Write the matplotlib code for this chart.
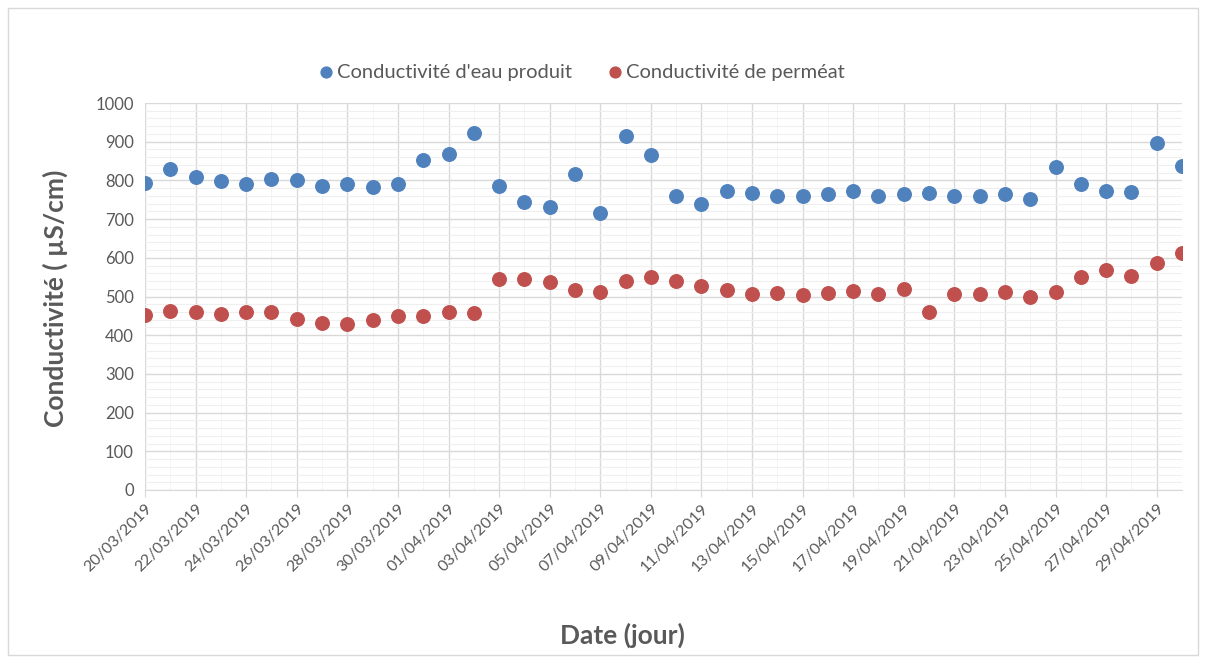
import matplotlib; matplotlib.use("Agg")
import matplotlib.pyplot as plt
import matplotlib.dates as mdates
from matplotlib.ticker import MultipleLocator
from matplotlib.patches import Rectangle
import pandas as pd

dates = pd.date_range("2019-03-20", "2019-04-30", freq="D")
eau_produit = [793, 829, 809, 798, 791, 803, 801, 786, 791, 783, 791, 853, 868, 922,
               786, 744, 731, 816, 716, 915, 866, 760, 739, 772, 767, 760, 760, 764,
               772, 760, 764, 767, 760, 760, 765, 751, 835, 791, 772, 769, 897, 837]
permeat = [452, 463, 460, 455, 459, 460, 442, 431, 429, 439, 450, 450, 460, 457,
           545, 545, 537, 517, 511, 540, 551, 540, 527, 517, 506, 509, 503, 510,
           514, 506, 519, 460, 506, 506, 512, 499, 512, 550, 568, 552, 586, 612]

plt.rcParams["font.family"] = ["Lato", "DejaVu Sans"]
fig = plt.figure(figsize=(12.13, 6.63), dpi=100)
fig.patches.append(Rectangle((8/1213, 8/663), 1190/1213, 647/663, transform=fig.transFigure,
                             fill=False, edgecolor="#d9d9d9", lw=1))
ax = fig.add_axes([145/1213, 1-490/663, (1182-145)/1213, (490-103)/663])

ax.scatter(dates, eau_produit, s=95, color="#4F81BD", zorder=3, label="Conductivité d'eau produit")
ax.scatter(dates, permeat, s=95, color="#C0504D", zorder=3, label="Conductivité de perméat")

ax.set_xlim(dates[0], dates[-1])
ax.set_ylim(0, 1000)
ax.set_xticks(dates[:-1:2])
ax.xaxis.set_major_formatter(mdates.DateFormatter("%d/%m/%Y"))
ax.set_xticks(dates, minor=True)
ax.yaxis.set_major_locator(MultipleLocator(100))
ax.yaxis.set_minor_locator(MultipleLocator(20))

ax.grid(which="major", color="#d9d9d9", lw=1)
ax.grid(which="minor", axis="y", color="#efefef", lw=0.8)
ax.grid(which="minor", axis="x", color="#f3f3f3", lw=0.6)
ax.set_axisbelow(True)
for s in ["top", "right", "left"]:
    ax.spines[s].set_visible(False)
ax.spines["bottom"].set_color("#d9d9d9")
ax.tick_params(axis="y", which="both", length=0, labelsize=12, labelcolor="#595959", pad=8)
ax.tick_params(axis="x", which="major", length=5, color="#d9d9d9", labelsize=11.5, labelcolor="#595959")
ax.tick_params(axis="x", which="minor", length=0)
plt.setp(ax.get_xticklabels(), rotation=45, ha="right", rotation_mode="anchor")

fig.text(55/1213, 1-298/663, "Conductivité ( µS/cm)", rotation=90, ha="center", va="center",
         fontsize=19, fontweight="bold", color="#595959")
fig.text(622/1213, 1-635/663, "Date (jour)", ha="center", va="center",
         fontsize=19, fontweight="bold", color="#595959")

ax.legend(loc="center", bbox_to_anchor=(580/1213, 1-72/663), bbox_transform=fig.transFigure,
          ncol=2, frameon=False, fontsize=14.5, labelcolor="#595959", handletextpad=0.0,
          columnspacing=1.6, markerscale=0.8, handlelength=1.1)

fig.savefig("out.png", dpi=100)
